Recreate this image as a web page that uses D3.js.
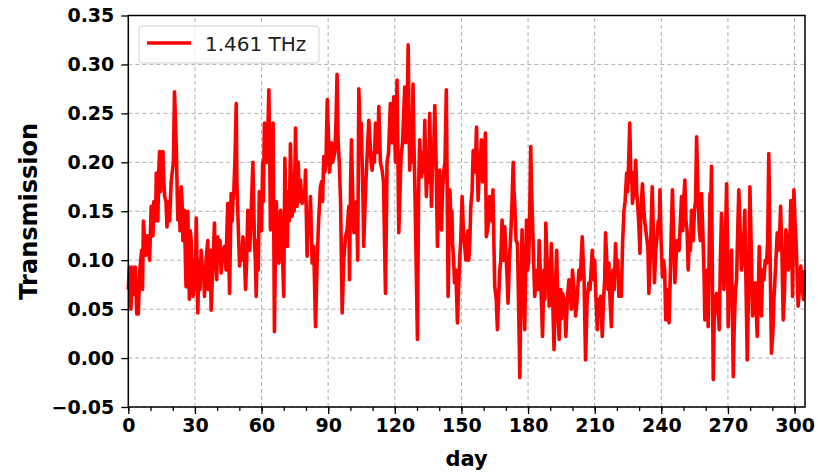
<!DOCTYPE html>
<html>
<head>
<meta charset="utf-8">
<script src="https://cdn.jsdelivr.net/npm/d3@7"></script>
<style>
  body { margin: 0; background: #fff; }
  text { font-family: "DejaVu Sans", sans-serif; }
</style>
</head>
<body>
<svg id="chart"></svg>
<script>
// extremes (peaks and dips): day, transmission
const peakDays = [
  0, 0.5, 1.2, 1.8, 2.6, 3.2, 3.8, 4.5, 5.2, 6, 6.4, 6.8, 7.8, 8.6, 9.6, 10.3, 11.1, 12, 12.6, 13.3,
  14.1, 15.6, 16.4, 17.4, 18.2, 19.3, 20.8, 21.6, 22.3, 23.8, 24.6, 25.3, 26, 26.8, 27.5, 28.3, 29.2, 30.6, 31.3, 32.8,
  33.5, 34.3, 35.8, 36.5, 37.3, 38.8, 39.5, 40.3, 41.8, 42.5, 43.3, 44, 44.8, 45.6, 46.3, 47.5, 48.6, 49.3, 50.1, 51.6,
  52.8, 53.8, 55, 56.1, 56.8, 57.6, 59, 60, 61.3, 62.5, 63.3, 64, 64.8, 65.2, 65.8, 67, 67.8, 68.6, 70, 70.5,
  71.6, 73, 73.8, 75.3, 76, 77.5, 78.3, 79.8, 80.5, 82, 82.8, 83.5, 84.3, 85, 86.5, 88, 89.6, 91, 92.6, 94,
  95, 95.6, 96.3, 97.8, 99.3, 99.6, 100.5, 101.6, 102.3, 103.3, 103.8, 104.5, 105.3, 106, 107, 108.3, 109.8, 111.3, 112.8, 114.3,
  115.8, 116.5, 118, 119.5, 120.3, 121, 121.8, 122.8, 124.5, 125.3, 126, 126.7, 127.5, 128.2, 129, 130.2, 131.2, 132, 133.5, 134.2,
  135.7, 136.5, 138, 139.2, 140.2, 141, 142, 143.2, 144, 144.8, 146, 146.9, 148.2, 149.2, 150.3, 151.5, 152.5, 153.3, 154.2, 155.3,
  156.8, 157.5, 159, 160.8, 161.2, 162.7, 164.2, 165, 166.2, 167.2, 168.3, 169.5, 171, 172.3, 173.3, 174, 175.2, 176.3, 177.3, 178.5,
  179.3, 180.3, 181.2, 182, 183, 184.2, 185, 186.5, 188, 189.5, 190.5, 191.7, 192.9, 194, 195.5, 197, 198.4, 200, 201.4, 202.9,
  204.4, 205.2, 205.9, 207.4, 208.9, 210.4, 211.2, 212.7, 213.4, 214.9, 216.4, 217.5, 219.4, 220.9, 222, 223.2, 224.4, 225.8, 227, 228.5,
  229.2, 230.4, 231.5, 233, 234.4, 235.9, 236.9, 238.1, 239.4, 240.5, 242, 243.5, 245, 246.1, 247.6, 249.1, 250.6, 252.1, 253.6, 254.4,
  255.9, 257.1, 258.1, 258.9, 259.6, 261.1, 261.9, 262.6, 263.4, 264.9, 266.1, 267.1, 268.2, 269.4, 270.1, 271.6, 272.4, 273.9, 274.9, 276.1,
  277.6, 278.7, 279.9, 281.1, 282.2, 283.2, 284.1, 285.1, 286.2, 287.4, 288.4, 289.6, 291.1, 292.2, 293.7, 294.9, 296.1, 297.2, 298.3, 299.1,
  299.7, 300.6, 301.6, 302.8, 303.6, 304.3
];
const peakValues = [
  0.07, 0.093, 0.05, 0.093, 0.065, 0.093, 0.045, 0.045, 0.09, 0.11, 0.07, 0.14, 0.105, 0.125, 0.10, 0.155, 0.125, 0.15, 0.189, 0.14,
  0.211, 0.211, 0.165, 0.134, 0.16, 0.18, 0.272, 0.216, 0.141, 0.175, 0.12, 0.151, 0.073, 0.15, 0.06, 0.12, 0.063, 0.143, 0.046, 0.11,
  0.08, 0.063, 0.12, 0.085, 0.049, 0.138, 0.10, 0.124, 0.087, 0.11, 0.114, 0.09, 0.158, 0.066, 0.168, 0.17, 0.26, 0.15, 0.094, 0.124,
  0.07, 0.151, 0.13, 0.20, 0.12, 0.063, 0.17, 0.13, 0.24, 0.20, 0.274, 0.131, 0.20, 0.24, 0.027, 0.145, 0.097, 0.151, 0.063, 0.204,
  0.114, 0.219, 0.145, 0.235, 0.155, 0.182, 0.158, 0.192, 0.104, 0.165, 0.097, 0.114, 0.032, 0.097, 0.175, 0.206, 0.264, 0.20, 0.206, 0.29,
  0.20, 0.158, 0.046, 0.124, 0.155, 0.08, 0.223, 0.128, 0.138, 0.10, 0.275, 0.22, 0.20, 0.114, 0.18, 0.243, 0.192, 0.24, 0.257, 0.192,
  0.066, 0.20, 0.26, 0.267, 0.20, 0.284, 0.128, 0.206, 0.277, 0.24, 0.32, 0.192, 0.25, 0.28, 0.178, 0.019, 0.223, 0.185, 0.243, 0.165,
  0.25, 0.155, 0.258, 0.114, 0.192, 0.131, 0.19, 0.274, 0.063, 0.172, 0.117, 0.077, 0.036, 0.10, 0.165, 0.114, 0.12, 0.10, 0.155, 0.212,
  0.236, 0.161, 0.223, 0.23, 0.124, 0.165, 0.172, 0.073, 0.029, 0.087, 0.141, 0.134, 0.056, 0.13, 0.20, 0.158, 0.117, -0.02, 0.131, 0.029,
  0.141, 0.10, 0.216, 0.14, 0.063, 0.09, 0.12, 0.022, 0.138, 0.053, 0.117, 0.0085, 0.11, 0.019, 0.066, 0.022, 0.08, 0.09, 0.043, 0.09,
  0.124, 0.083, -0.002, 0.077, 0.11, 0.07, 0.029, 0.063, 0.022, 0.128, 0.097, 0.032, 0.117, 0.063, 0.063, 0.151, 0.189, 0.24, 0.158, 0.202,
  0.161, 0.107, 0.178, 0.131, 0.066, 0.175, 0.077, 0.124, 0.172, 0.083, 0.039, 0.036, 0.172, 0.077, 0.117, 0.165, 0.182, 0.09, 0.151, 0.12,
  0.226, 0.131, 0.168, 0.114, 0.039, 0.032, 0.168, 0.196, -0.022, 0.066, 0.029, 0.148, 0.07, 0.178, 0.032, 0.11, -0.019, 0.08, 0.172, 0.09,
  0.151, -0.002, 0.175, 0.043, 0.077, 0.022, 0.114, 0.043, 0.08, 0.097, 0.209, 0.005, 0.077, 0.128, 0.155, 0.039, 0.131, 0.09, 0.161, 0.063,
  0.172, 0.124, 0.053, 0.094, 0.07, 0.09
];
// in-between readings from the dense band of the trace
const bandDays = [
  10.7, 11.5, 12.3, 13.7, 14.5, 15, 16, 17, 17.8, 18.6, 19.8, 20.3,
  22.8, 23.3, 24.2, 25.7, 26.4, 27.1, 27.9, 28.8, 29.7, 30.2,
  31.8, 32.3, 33.1, 33.9, 35, 36, 36.9, 38, 39, 39.8, 40.8, 41.3, 42, 43.7, 44.4,
  46.8, 47.1, 48, 48.9, 49.7, 50.6, 51.2, 52.2, 53.3, 54.3, 54.7, 55.5, 57.2, 58, 58.5, 59.5, 60.5, 60.8,
  62, 62.8, 63.7, 64.4, 66.3, 66.6, 67.4, 68.2, 69, 69.5, 71, 72, 72.5, 74.2, 74.7, 76.5, 77, 78.8, 79.3,
  81, 81.5, 83.1, 85.7, 87, 87.5, 88.5, 89, 90.2, 90.6, 91.5, 92, 93, 93.5,
  94.5, 97, 98.5, 100.1, 101, 102.8, 104.9, 105.7, 106.5, 107.6, 108.9, 109.3, 110.3, 110.8, 111.8, 112.3,
  113.5, 114.9, 116.2, 117.2, 118.7, 119.1, 120.7,
  123.5, 124, 125, 125.7, 127.1, 127.8, 128.6, 129.6, 130.7, 131.6, 132.7, 133, 134.9, 135.2, 137, 137.5,
  138.6, 139.7, 140.6, 141.5, 142.6, 145.3, 145.7, 146.5, 147.5, 148.7, 149.7, 150.9, 152, 152.9, 153.8,
  154.8, 155.8, 156.3, 158, 158.5, 159.5, 160.2, 161.7, 162.2, 163.3, 163.8, 164.6, 165.7, 166.7, 167.7,
  168.8, 169, 170.2, 170.6, 171.6, 172.8, 173.7, 174.6, 175.7, 176.8, 177.9, 178.9, 179.8, 180.7, 181.6, 182.5,
  183.7, 184.6, 185.7, 186, 187.2, 187.6, 188.7, 189, 190, 191.1, 192.3, 193.4, 194.7, 195, 196.2, 196.6,
  197.7, 199, 199.5, 200.7, 202.1, 203.5, 203.9, 204.8, 206.6, 207.9, 208.4, 209.5, 210, 211.7, 212.2, 214,
  214.5, 215.6, 216, 216.9, 218.2, 218.8, 219.9, 220.4, 221.5, 222.6,
  223.7, 224.8, 225.3, 226.3, 226.7, 227.6, 228, 228.9, 229.8, 230.8, 231.9, 232.5, 233.6, 234, 235, 235.5,
  236.4, 237.5, 238.6, 239, 239.9, 241, 241.5, 242.5, 243, 244, 244.5,
  245.5, 246.6, 247.1, 248, 248.6, 249.6, 250.1, 251.1, 251.6, 252.6, 253.1, 254, 254.9, 255.4, 256.5, 257.6,
  259.3, 260.3, 260.7, 262.2, 263, 263.8, 264.3, 265.5, 266.6, 267.6, 268.7, 269.8, 270.6, 271.1, 272, 272.8,
  273.4, 274.4, 275.5, 276.6, 277.1, 278.1, 279.3, 280.5, 281.6, 282.7, 283.7, 284.6, 285.6, 286.8, 287.9, 289,
  290.3, 290.7, 291.6, 292.7, 293.2, 294.3, 295.5, 296.7, 297.8, 298.7, 300.2, 301.1, 302.2, 303.2, 304
];
const bandValues = [
  0.13, 0.16, 0.14, 0.19, 0.17, 0.21, 0.18, 0.16, 0.15, 0.14, 0.19, 0.20,
  0.17, 0.13, 0.16, 0.10, 0.12, 0.11, 0.13, 0.09, 0.10, 0.07,
  0.10, 0.07, 0.10, 0.09, 0.10, 0.07, 0.11, 0.09, 0.11, 0.08, 0.10, 0.12, 0.095, 0.10, 0.13,
  0.14, 0.16, 0.20, 0.18, 0.12, 0.11, 0.10, 0.11, 0.10, 0.14, 0.11, 0.16, 0.10, 0.12, 0.09, 0.15, 0.20, 0.16,
  0.22, 0.23, 0.20, 0.19, 0.12, 0.16, 0.13, 0.12, 0.12, 0.10, 0.15, 0.17, 0.14, 0.18, 0.15, 0.20, 0.16, 0.17, 0.16,
  0.14, 0.13, 0.10, 0.14, 0.18, 0.16, 0.19, 0.20, 0.22, 0.19, 0.22, 0.20, 0.21, 0.24,
  0.22, 0.10, 0.13, 0.18, 0.17, 0.16, 0.24, 0.16, 0.15, 0.21, 0.22, 0.20, 0.21, 0.20, 0.22, 0.21,
  0.20, 0.18, 0.14, 0.21, 0.22, 0.24, 0.23,
  0.22, 0.25, 0.22, 0.27, 0.22, 0.20, 0.22, 0.10, 0.17, 0.20, 0.21, 0.19, 0.20, 0.18, 0.20, 0.21,
  0.20, 0.16, 0.15, 0.17, 0.20, 0.14, 0.15, 0.10, 0.09, 0.07, 0.12, 0.13, 0.10, 0.13, 0.12,
  0.17, 0.19, 0.20, 0.19, 0.20, 0.18, 0.20, 0.13, 0.14, 0.15, 0.14, 0.12, 0.06, 0.06, 0.10,
  0.12, 0.10, 0.10, 0.08, 0.10, 0.16, 0.17, 0.12, 0.06, 0.07, 0.07, 0.09, 0.09, 0.14, 0.17, 0.10,
  0.08, 0.07, 0.08, 0.06, 0.09, 0.06, 0.09, 0.10, 0.08, 0.06, 0.07, 0.05, 0.07, 0.04, 0.06, 0.05,
  0.06, 0.07, 0.05, 0.07, 0.06, 0.08, 0.10, 0.10, 0.06, 0.07, 0.09, 0.08, 0.10, 0.06, 0.05, 0.06,
  0.08, 0.09, 0.07, 0.06, 0.09, 0.07, 0.09, 0.10, 0.08, 0.12,
  0.16, 0.17, 0.20, 0.18, 0.19, 0.17, 0.18, 0.17, 0.14, 0.15, 0.16, 0.14, 0.12, 0.11, 0.10, 0.14,
  0.13, 0.11, 0.14, 0.13, 0.12, 0.10, 0.09, 0.07, 0.05, 0.08, 0.13,
  0.13, 0.10, 0.12, 0.11, 0.14, 0.13, 0.16, 0.14, 0.13, 0.12, 0.11, 0.14, 0.15, 0.16, 0.17, 0.12,
  0.08, 0.06, 0.09, 0.15, 0.08, 0.04, 0.06, 0.05, 0.10, 0.12, 0.10, 0.12, 0.08, 0.09, 0.05, 0.03,
  0.07, 0.13, 0.13, 0.10, 0.12, 0.08, 0.07, 0.11, 0.06, 0.05, 0.07, 0.08, 0.09, 0.10, 0.12, 0.10,
  0.03, 0.06, 0.10, 0.11, 0.12, 0.11, 0.07, 0.12, 0.11, 0.12, 0.14, 0.09, 0.07, 0.08, 0.06
];
const xTicks = [0, 30, 60, 90, 120, 150, 180, 210, 240, 270, 300];
const xMinorTicks = d3.range(0, 305, 10);
const yTicks = [-0.05, 0, 0.05, 0.10, 0.15, 0.20, 0.25, 0.30, 0.35];
const seriesName = "1.461 THz";

const width = 818, height = 473;
const margin = { top: 15.5, right: 13, bottom: 66, left: 128.3 };

const svg = d3.select("#chart")
  .attr("width", width)
  .attr("height", height);

const x = d3.scaleLinear()
  .domain([0, 304.7])
  .range([margin.left, width - margin.right]);

const y = d3.scaleLinear()
  .domain([-0.05, 0.35])
  .range([height - margin.bottom, margin.top]);

// dashed grid
const grid = svg.append("g")
  .attr("stroke", "#b0b0b0")
  .attr("stroke-width", 1)
  .attr("stroke-dasharray", "4,3");

grid.selectAll(".gx")
  .data(xTicks)
  .join("line")
  .attr("class", "gx")
  .attr("x1", d => x(d)).attr("x2", d => x(d))
  .attr("y1", y.range()[0]).attr("y2", y.range()[1]);

grid.selectAll(".gy")
  .data(yTicks)
  .join("line")
  .attr("class", "gy")
  .attr("x1", x.range()[0]).attr("x2", x.range()[1])
  .attr("y1", d => y(d)).attr("y2", d => y(d));

// the series: both sets of readings, in time order
const data = d3.sort(
  peakDays.map((d, i) => [d, peakValues[i]])
    .concat(bandDays.map((d, i) => [d, bandValues[i]])),
  d => d[0]);

const line = d3.line()
  .x(d => x(d[0]))
  .y(d => y(d[1]));

svg.append("path")
  .datum(data)
  .attr("fill", "none")
  .attr("stroke", "#ff0000")
  .attr("stroke-width", 3.6)
  .attr("stroke-linejoin", "round")
  .attr("d", line);

// axes
const xAxis = svg.append("g")
  .attr("transform", `translate(0,${y.range()[0]})`)
  .call(d3.axisBottom(x).tickValues(xTicks).tickSize(7).tickPadding(5));

svg.append("g")
  .attr("transform", `translate(0,${y.range()[0]})`)
  .call(d3.axisBottom(x).tickValues(xMinorTicks).tickSize(4).tickFormat(""));

const yAxis = svg.append("g")
  .attr("transform", `translate(${x.range()[0]},0)`)
  .call(d3.axisLeft(y).tickValues(yTicks).tickFormat(d3.format(".2f")).tickSize(7).tickPadding(7));

svg.selectAll(".tick line").attr("stroke", "#000").attr("stroke-width", 1.3);
svg.selectAll(".domain").remove();
[xAxis, yAxis].forEach(g => g.selectAll("text")
  .attr("fill", "#000")
  .style("font-size", "19px")
  .style("font-weight", "bold")
  .style("font-family", "DejaVu Sans"));

// frame
svg.append("rect")
  .attr("x", x.range()[0])
  .attr("y", y.range()[1])
  .attr("width", x.range()[1] - x.range()[0])
  .attr("height", y.range()[0] - y.range()[1])
  .attr("fill", "none")
  .attr("stroke", "#000")
  .attr("stroke-width", 1.5);

// axis labels
svg.append("text")
  .attr("x", (x.range()[0] + x.range()[1]) / 2)
  .attr("y", 466)
  .attr("text-anchor", "middle")
  .style("font-size", "21px")
  .style("font-weight", "bold")
  .text("day");

svg.append("text")
  .attr("transform", `translate(37,${(y.range()[0] + y.range()[1]) / 2}) rotate(-90)`)
  .attr("text-anchor", "middle")
  .style("font-size", "24px")
  .style("font-weight", "bold")
  .text("Transmission");

// legend
const legend = svg.append("g");
legend.append("rect")
  .attr("x", 139).attr("y", 26)
  .attr("width", 180).attr("height", 37)
  .attr("rx", 3)
  .attr("fill", "#fff").attr("fill-opacity", 0.8)
  .attr("stroke", "#d0d0d0");
legend.append("line")
  .attr("x1", 147).attr("x2", 191)
  .attr("y1", 43).attr("y2", 43)
  .attr("stroke", "#ff0000")
  .attr("stroke-width", 3.6);
legend.append("text")
  .attr("x", 205).attr("y", 51)
  .style("font-size", "20px")
  .attr("fill", "#222")
  .text(seriesName);
</script>
</body>
</html>
